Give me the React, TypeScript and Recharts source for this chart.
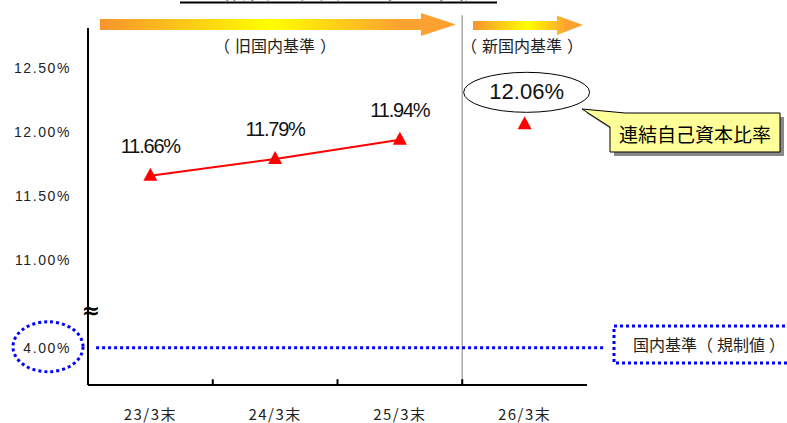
import React from 'react';
import { LineChart, Line, XAxis, YAxis, ReferenceLine, LabelList, Customized } from 'recharts';

const periods = ['23/3末', '24/3末', '25/3末', '26/3末'];
const oldStandard: (number | null)[] = [11.66, 11.79, 11.94, null];
const newStandard: (number | null)[] = [null, null, null, 12.06];
const regulatoryMinimum = 4.0;
const yTicks = [11.0, 11.5, 12.0, 12.5];
// broken axis: compressed position where the 4.00% level is drawn
const REG_POS = 10.32;
const Y_DOMAIN: [number, number] = [10.03, 12.81];
const boundaries = [1, 2, 3];

const data = periods.map((p, i) => ({ period: p, idx: i + 0.5, old: oldStandard[i], new: newStandard[i] }));

const CJK = "'Noto Sans CJK JP', sans-serif";
const LAT = "'Liberation Sans', Arial, sans-serif";

const YTick = (props: any) => {
  const { x, y, payload } = props;
  const isReg = payload.value === REG_POS;
  const label = (isReg ? regulatoryMinimum : payload.value).toFixed(2) + '%';
  return (
    <g>
      {isReg && (
        <ellipse cx={x - 23} cy={y - 1} rx={35} ry={25} fill="none" stroke="#0000ff" strokeWidth={3} strokeDasharray="3 3" />
      )}
      <text x={x} y={y} dy={5} textAnchor="end" fontFamily={LAT} fontSize={14} letterSpacing={1.6} fill="#222">
        {label}
      </text>
    </g>
  );
};

const XTick = (props: any) => {
  const { x, y, payload } = props;
  return (
    <text x={x} y={y + 33} textAnchor="middle" fontFamily={CJK} fontSize={15} letterSpacing={1.5} fill="#222">
      {payload.value}
    </text>
  );
};

const Tri = (props: any) => {
  const { cx, cy, value } = props;
  if (value == null || cx == null || cy == null) return null;
  return <polygon points={`${cx},${cy - 8} ${cx - 7},${cy + 5} ${cx + 7},${cy + 5}`} fill="#ff0000" />;
};

const ValLabel = (props: any) => {
  const { x, y, value } = props;
  if (value == null || x == null || y == null) return null;
  return (
    <text x={x} y={y - 23} textAnchor="middle" fontFamily={LAT} fontSize={20} letterSpacing={-1.2} fill="#111">
      {Number(value).toFixed(2)}%
    </text>
  );
};

const EllipseLabel = (props: any) => {
  const { x, y, value } = props;
  if (value == null || x == null || y == null) return null;
  return (
    <g>
      <ellipse cx={x + 2} cy={y - 32} rx={63} ry={20} fill="#fff" stroke="#000" strokeWidth={1} />
      <text x={x + 2} y={y - 25} textAnchor="middle" fontFamily={LAT} fontSize={22} fill="#111">
        {Number(value).toFixed(2)}%
      </text>
    </g>
  );
};

const Paren = ({ x, y, body, size = 16, anchor = 'middle' }: any) => (
  <text x={x} y={y} textAnchor={anchor} fontFamily={CJK} fontSize={size} fill="#222">
    <tspan>（</tspan>
    <tspan dx={5}>{body}</tspan>
    <tspan dx={5}>）</tspan>
  </text>
);

const Decorations = () => (
  <g>
    <defs>
      <linearGradient id="arrowGradA" gradientUnits="userSpaceOnUse" x1="100" y1="0" x2="456" y2="0">
        <stop offset="0" stopColor="#f9932f" />
        <stop offset="0.48" stopColor="#ffff00" />
        <stop offset="0.84" stopColor="#fda230" />
        <stop offset="1" stopColor="#fda030" />
      </linearGradient>
      <linearGradient id="arrowGradB" gradientUnits="userSpaceOnUse" x1="473" y1="0" x2="583" y2="0">
        <stop offset="0" stopColor="#f9932f" />
        <stop offset="0.5" stopColor="#ffff00" />
        <stop offset="0.85" stopColor="#fda230" />
        <stop offset="1" stopColor="#fda030" />
      </linearGradient>
    </defs>
    {/* title (cut off at top) */}
    <text x={338} y={-2} textAnchor="middle" fontFamily={CJK} fontSize={26} fill="#000">
      連結自己資本比率の推移
    </text>
    <line x1={180} y1={2.5} x2={497} y2={2.5} stroke="#000" strokeWidth={2} />
    {/* arrows */}
    <path d="M100 19 L421 19 L421 13 L456 24.5 L421 36 L421 30 L100 30 Z" fill="url(#arrowGradA)" />
    <path d="M473 21 L557 21 L557 15.5 L583 25 L557 35 L557 30 L473 30 Z" fill="url(#arrowGradB)" />
    <Paren x={275} y={52} body="旧国内基準" />
    <Paren x={522} y={52} body="新国内基準" />
    {/* axis break */}
    <text x={91} y={318} textAnchor="middle" fontFamily="'DejaVu Sans', sans-serif" fontWeight="bold" fontSize={22} fill="#000">≈</text>
    {/* callout */}
    <path d="M629 117 L784 117 L784 156 L614 156 L614 131 L586 113 Z" fill="#888" />
    <path d="M625 113 L780 113 L780 152 L610 152 L610 127 L582 109 Z" fill="#ffff99" stroke="#000" strokeWidth={1} />
    <text x={695} y={142} textAnchor="middle" fontFamily={CJK} fontSize={19} fill="#000">連結自己資本比率</text>
    {/* regulatory legend */}
    <rect x={614} y={326} width={200} height={37} fill="none" stroke="#0000ff" strokeWidth={3} strokeDasharray="3 3" />
    <text x={633} y={351} fontFamily={CJK} fontSize={16} fill="#222">
      <tspan>国内基準</tspan>
      <tspan>（</tspan>
      <tspan dx={4}>規制値</tspan>
      <tspan dx={4}>）</tspan>
    </text>
  </g>
);

export default function App() {
  return (
    <div style={{ position: 'absolute', left: 0, top: 0, background: '#fff' }}>
      <LineChart width={787} height={423} data={data} margin={{ top: 28, right: 200, bottom: 0, left: 0 }}>
        <XAxis
          dataKey="period"
          scale="band"
          axisLine={{ stroke: '#000', strokeWidth: 2 }}
          tickLine={false}
          tickSize={0}
          height={38}
          tick={<XTick />}
        />
        <XAxis xAxisId="grid" dataKey="idx" type="number" domain={[0, 4]} allowDataOverflow hide />
        <YAxis
          type="number"
          domain={Y_DOMAIN}
          ticks={[REG_POS, ...yTicks]}
          width={88}
          axisLine={{ stroke: '#000', strokeWidth: 2 }}
          tickLine={false}
          tickSize={0}
          tickMargin={17}
          tick={<YTick />}
          interval={0}
          allowDataOverflow
        />
        <ReferenceLine
          xAxisId="grid"
          segment={[{ x: 3, y: 12.91 }, { x: 3, y: Y_DOMAIN[0] }]}
          stroke="#aaa"
          strokeWidth={1.5}
          ifOverflow="visible"
        />
        {boundaries.map((b) => (
          <ReferenceLine
            key={b}
            xAxisId="grid"
            segment={[{ x: b, y: Y_DOMAIN[0] }, { x: b, y: Y_DOMAIN[0] + 0.045 }]}
            stroke="#000"
            strokeWidth={2}
            ifOverflow="visible"
          />
        ))}
        <ReferenceLine
          xAxisId="grid"
          segment={[{ x: 0.065, y: REG_POS }, { x: 4.13, y: REG_POS }]}
          stroke="#0000ff"
          strokeWidth={3}
          strokeDasharray="3 3"
          ifOverflow="visible"
        />
        <Line dataKey="old" stroke="#ff0000" strokeWidth={2} dot={<Tri />} activeDot={false} isAnimationActive={false}>
          <LabelList dataKey="old" content={<ValLabel />} />
        </Line>
        <Line dataKey="new" stroke="transparent" dot={<Tri />} activeDot={false} isAnimationActive={false}>
          <LabelList dataKey="new" content={<EllipseLabel />} />
        </Line>
        <Customized component={Decorations} />
      </LineChart>
    </div>
  );
}
